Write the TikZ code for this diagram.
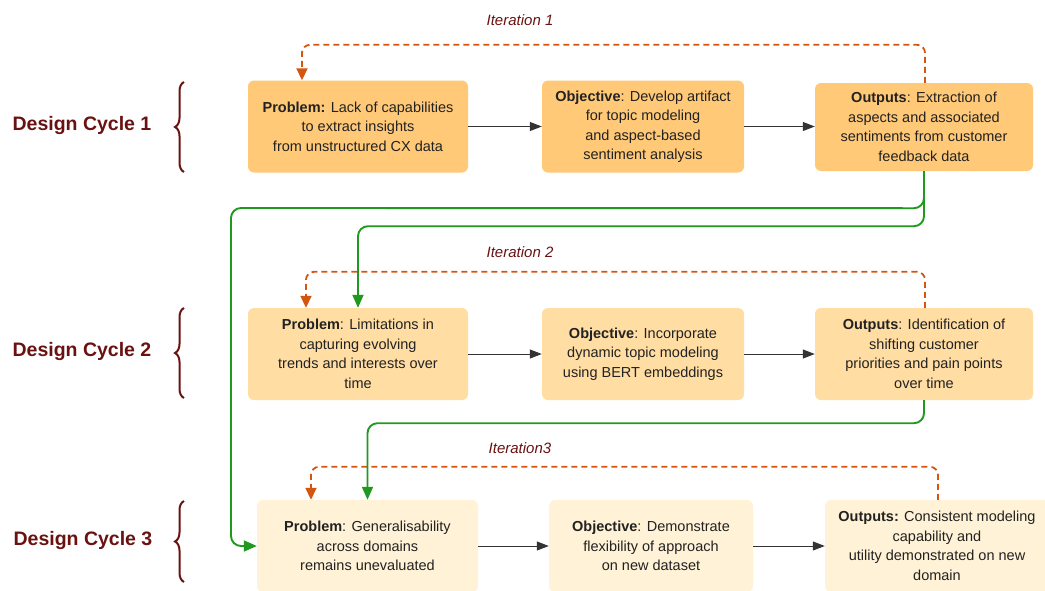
\documentclass[tikz,border=0pt]{standalone}
\usepackage{fontspec}
\setmainfont{Liberation Sans}
\usetikzlibrary{arrows.meta,decorations.pathreplacing}

\definecolor{rowA}{HTML}{FFC978}
\definecolor{rowB}{HTML}{FFDDA3}
\definecolor{rowC}{HTML}{FFF2D6}
\definecolor{iterclr}{HTML}{D4560E}
\definecolor{flowclr}{HTML}{1F9A1F}
\definecolor{cyclered}{HTML}{6A1111}
\definecolor{boxtext}{HTML}{222222}

\tikzset{
  stage/.style={rectangle, rounded corners=6pt, draw=none, align=center,
    text=boxtext, inner sep=0pt, minimum height=92pt,
    font=\fontsize{14.5}{19.5}\selectfont},
  link/.style={draw=black!80, line width=1pt,
    -{Triangle[length=12pt,width=9pt]}},
  iterloop/.style={draw=iterclr, line width=1.8pt, dash pattern=on 6pt off 4pt,
    rounded corners=8pt, -{Triangle[length=12pt,width=11pt]}},
  feed/.style={draw=flowclr, line width=1.9pt, rounded corners=10pt,
    -{Triangle[length=13pt,width=11pt]}},
  cyclelabel/.style={text=cyclered, font=\fontsize{19.5}{22}\selectfont\bfseries},
  iterlabel/.style={text=cyclered, font=\fontsize{15}{18}\selectfont\itshape},
  cyclebrace/.style={draw=cyclered, line width=2pt,
    decorate, decoration={brace, amplitude=9pt}},
}

\begin{document}
\begin{tikzpicture}[x=1pt,y=-1pt]
\useasboundingbox (0,0) rectangle (1045,590);
\clip (0,0) rectangle (1045,590);

% ---- cycle labels and braces ----
\node[cyclelabel] (dc1) at (82,125) {Design Cycle 1};
\node[cyclelabel] (dc2) at (82,351) {Design Cycle 2};
\node[cyclelabel] (dc3) at (83,540) {Design Cycle 3};
\draw[cyclebrace] (184,172) -- (184,82);
\draw[cyclebrace] (184,398) -- (184,308);
\draw[cyclebrace] (184,582) -- (184,501);

% ---- cycle 1 ----
\node[stage, fill=rowA, minimum width=220pt] (p1) at (358,126.5)
  {\textbf{Problem:} Lack of capabilities\\to extract insights\\from unstructured CX data};
\node[stage, fill=rowA, minimum width=202pt] (o1) at (643,126.5)
  {\textbf{Objective}: Develop artifact\\for topic modeling\\and aspect-based\\sentiment analysis};
\node[stage, fill=rowA, minimum width=218pt, minimum height=88pt] (out1) at (924,127)
  {\textbf{Outputs}: Extraction of\\aspects and associated\\sentiments from customer\\feedback data};

% ---- cycle 2 ----
\node[stage, fill=rowB, minimum width=220pt] (p2) at (358,354)
  {\textbf{Problem}: Limitations in\\capturing evolving\\trends and interests over\\time};
\node[stage, fill=rowB, minimum width=202pt] (o2) at (643,354)
  {\textbf{Objective}: Incorporate\\dynamic topic modeling\\using BERT embeddings};
\node[stage, fill=rowB, minimum width=218pt] (out2) at (924,354)
  {\textbf{Outputs}: Identification of\\shifting customer\\priorities and pain points\\over time};

% ---- cycle 3 ----
\node[stage, fill=rowC, minimum width=221pt] (p3) at (367.5,546)
  {\textbf{Problem}: Generalisability\\across domains\\remains unevaluated};
\node[stage, fill=rowC, minimum width=204pt] (o3) at (651,546)
  {\textbf{Objective}: Demonstrate\\flexibility of approach\\on new dataset};
\node[stage, fill=rowC, minimum width=224pt] (out3) at (937,546)
  {\textbf{Outputs:} Consistent modeling\\capability and\\utility demonstrated on new\\domain};

% ---- forward links inside each cycle ----
\draw[link] (p1.east) -- (o1.west);
\draw[link] (o1.east) -- (out1.west |- o1.east);
\draw[link] (p2.east) -- (o2.west);
\draw[link] (o2.east) -- (out2.west);
\draw[link] (p3.east) -- (o3.west);
\draw[link] (o3.east) -- (out3.west);

% ---- iteration loops ----
\node[iterlabel] (it1) at (520,20) {Iteration 1};
\node[iterlabel] (it2) at (520,252) {Iteration 2};
\node[iterlabel] (it3) at (520,448) {Iteration3};
\draw[iterloop] ([xshift=1pt]out1.north) -- ++(0,-38) -| ([xshift=-56pt]p1.north);
\draw[iterloop] ([xshift=1pt]out2.north) -- ++(0,-36) -| ([xshift=-52pt]p2.north);
\draw[iterloop] ([xshift=1pt]out3.north) -- ++(0,-33) -| ([xshift=-56.5pt]p3.north);

% ---- transitions between cycles ----
\draw[feed] (out1.south) -- ++(0,37) -- (231,208) |- (p3.west);
\draw[feed] (out1.south) -- ++(0,55) -| (p2.north);
\draw[feed] (out2.south) -- ++(0,23) -| (p3.north);
\end{tikzpicture}
\end{document}
